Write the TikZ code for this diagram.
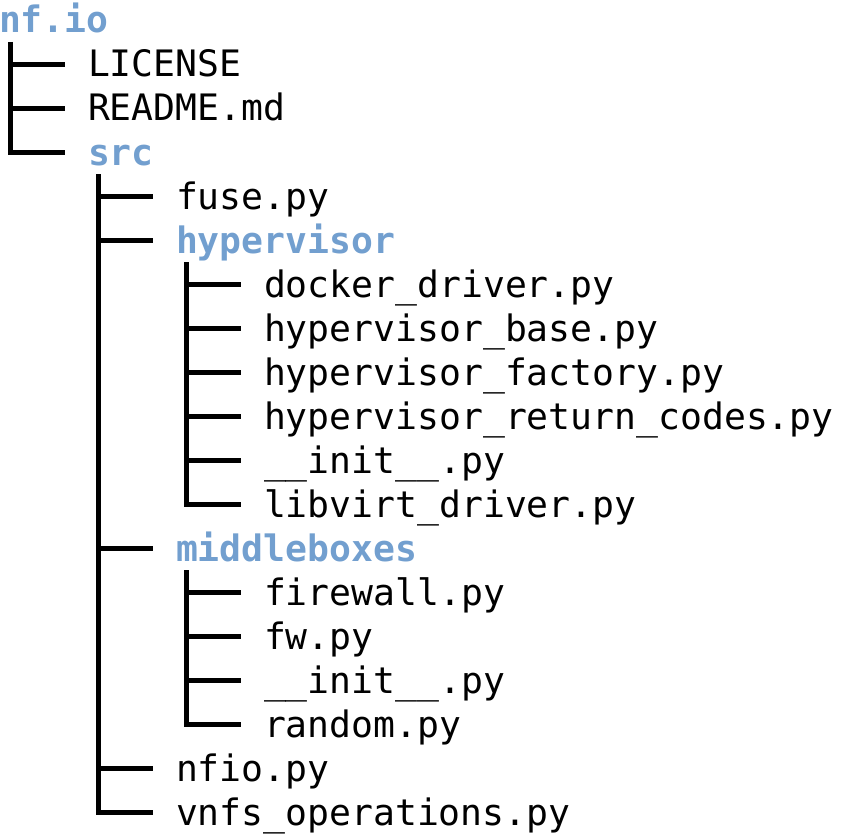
\documentclass[tikz,border=0pt]{standalone}
\usepackage{fontspec}
\newfontfamily\treemono{DejaVu Sans Mono}
\usetikzlibrary{calc}
\definecolor{dirblue}{HTML}{729FCF}
\tikzset{
  entry/.style={anchor=base west, inner sep=0pt, outer sep=0pt, font=\treemono\fontsize{36.4}{44}\selectfont, text=black},
  dirent/.style={entry, font=\treemono\bfseries\fontsize{36.4}{44}\selectfont, text=dirblue},
  treeline/.style={line width=4.8pt, line join=miter, line cap=butt, black}
}
\begin{document}
\begin{tikzpicture}[x=1pt,y=-1pt]
\useasboundingbox (0,0) rectangle (854,840);
\node[dirent] (root) at (-1,33) {nf.io};
\node[entry] (license) at (88,77) {LICENSE};
\node[entry] (readme) at (88,121) {README.md};
\node[dirent] (src) at (88,165) {src};
\node[entry] (fuse) at (176,209) {fuse.py};
\node[dirent] (hyp) at (176,253) {hypervisor};
\node[entry] (docker) at (264,297) {docker\_driver.py};
\node[entry] (hbase) at (264,341) {hypervisor\_base.py};
\node[entry] (hfact) at (264,385) {hypervisor\_factory.py};
\node[entry] (hret) at (264,429) {hypervisor\_return\_codes.py};
\node[entry] (hinit) at (264,473) {\_\_init\_\_.py};
\node[entry] (libvirt) at (264,517) {libvirt\_driver.py};
\node[dirent] (mbox) at (176,561) {middleboxes};
\node[entry] (firewall) at (264,605) {firewall.py};
\node[entry] (fw) at (264,649) {fw.py};
\node[entry] (minit) at (264,693) {\_\_init\_\_.py};
\node[entry] (random) at (264,737) {random.py};
\node[entry] (nfiopy) at (176,781) {nfio.py};
\node[entry] (vnfs) at (176,825) {vnfs\_operations.py};
% root children
\draw[treeline] ($(license.base west)+(-77.5,-12.5)$) -- ($(license.base west)+(-23,-12.5)$);
\draw[treeline] ($(readme.base west)+(-77.5,-12.5)$) -- ($(readme.base west)+(-23,-12.5)$);
\draw[treeline] ($(root.base west)+(11.5,9)$) |- ($(src.base west)+(-23,-12.5)$);
% src children
\draw[treeline] ($(fuse.base west)+(-77.5,-12.5)$) -- ($(fuse.base west)+(-23,-12.5)$);
\draw[treeline] ($(hyp.base west)+(-77.5,-12.5)$) -- ($(hyp.base west)+(-23,-12.5)$);
\draw[treeline] ($(mbox.base west)+(-77.5,-12.5)$) -- ($(mbox.base west)+(-23,-12.5)$);
\draw[treeline] ($(nfiopy.base west)+(-77.5,-12.5)$) -- ($(nfiopy.base west)+(-23,-12.5)$);
\draw[treeline] ($(src.base west)+(10.5,9)$) |- ($(vnfs.base west)+(-23,-12.5)$);
% hypervisor children
\draw[treeline] ($(docker.base west)+(-77.5,-12.5)$) -- ($(docker.base west)+(-23,-12.5)$);
\draw[treeline] ($(hbase.base west)+(-77.5,-12.5)$) -- ($(hbase.base west)+(-23,-12.5)$);
\draw[treeline] ($(hfact.base west)+(-77.5,-12.5)$) -- ($(hfact.base west)+(-23,-12.5)$);
\draw[treeline] ($(hret.base west)+(-77.5,-12.5)$) -- ($(hret.base west)+(-23,-12.5)$);
\draw[treeline] ($(hinit.base west)+(-77.5,-12.5)$) -- ($(hinit.base west)+(-23,-12.5)$);
\draw[treeline] ($(hyp.base west)+(10.5,9)$) |- ($(libvirt.base west)+(-23,-12.5)$);
% middleboxes children
\draw[treeline] ($(firewall.base west)+(-77.5,-12.5)$) -- ($(firewall.base west)+(-23,-12.5)$);
\draw[treeline] ($(fw.base west)+(-77.5,-12.5)$) -- ($(fw.base west)+(-23,-12.5)$);
\draw[treeline] ($(minit.base west)+(-77.5,-12.5)$) -- ($(minit.base west)+(-23,-12.5)$);
\draw[treeline] ($(mbox.base west)+(10.5,9)$) |- ($(random.base west)+(-23,-12.5)$);
\end{tikzpicture}
\end{document}
